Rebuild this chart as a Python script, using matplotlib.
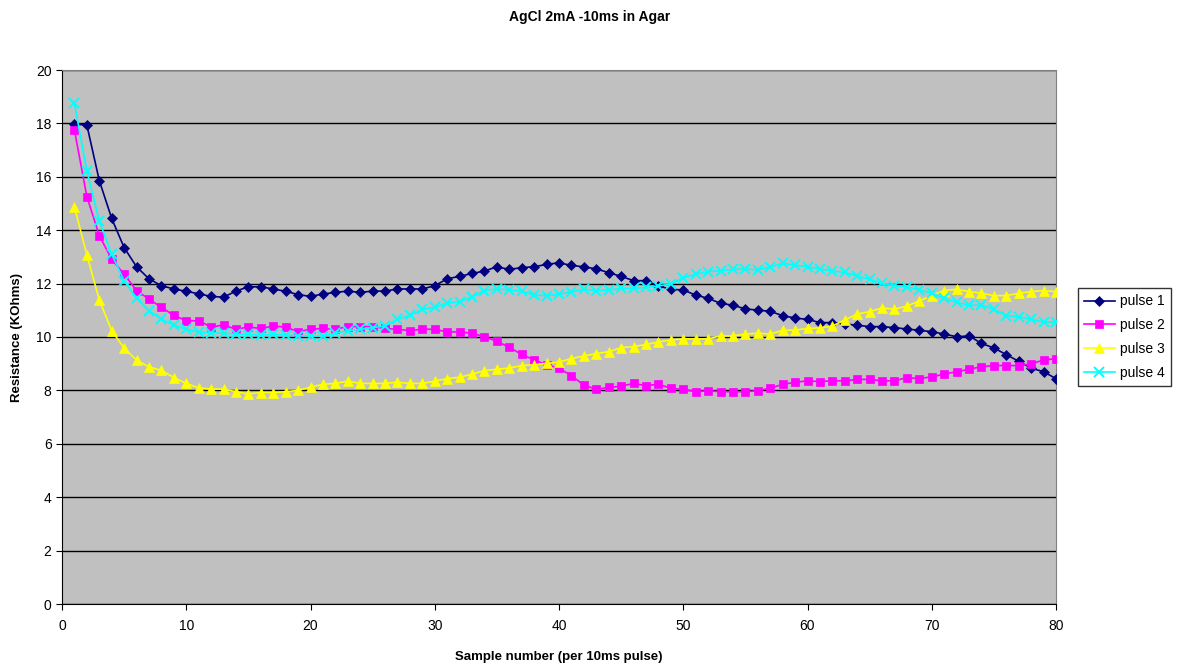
import matplotlib
matplotlib.use("Agg")
import matplotlib.pyplot as plt
import numpy as np

plt.rcParams['font.family'] = ['Liberation Sans', 'DejaVu Sans']

samples = np.arange(1, 81)

pulse1 = [17.97, 17.94, 15.86, 14.44, 13.35, 12.63, 12.18, 11.92, 11.80, 11.71,
          11.62, 11.52, 11.49, 11.72, 11.88, 11.88, 11.80, 11.71, 11.59, 11.52,
          11.61, 11.67, 11.72, 11.67, 11.72, 11.72, 11.80, 11.80, 11.80, 11.92,
          12.18, 12.27, 12.38, 12.47, 12.63, 12.53, 12.60, 12.63, 12.72, 12.78,
          12.68, 12.63, 12.55, 12.41, 12.27, 12.11, 12.11, 11.91, 11.79, 11.76,
          11.57, 11.45, 11.26, 11.19, 11.05, 11.01, 10.96, 10.80, 10.71, 10.66,
          10.54, 10.54, 10.49, 10.44, 10.39, 10.39, 10.35, 10.30, 10.25, 10.20,
          10.11, 10.01, 10.04, 9.76, 9.59, 9.34, 9.09, 8.83, 8.70, 8.44]

pulse2 = [17.75, 15.26, 13.80, 12.91, 12.35, 11.74, 11.42, 11.11, 10.81, 10.61,
          10.61, 10.37, 10.45, 10.29, 10.37, 10.32, 10.41, 10.37, 10.20, 10.29,
          10.32, 10.29, 10.39, 10.39, 10.39, 10.32, 10.29, 10.24, 10.29, 10.29,
          10.19, 10.19, 10.14, 10.01, 9.84, 9.61, 9.35, 9.14, 8.96, 8.83,
          8.55, 8.20, 8.04, 8.11, 8.16, 8.26, 8.18, 8.23, 8.08, 8.04,
          7.95, 7.99, 7.95, 7.95, 7.95, 7.99, 8.08, 8.23, 8.30, 8.36,
          8.33, 8.36, 8.36, 8.41, 8.41, 8.36, 8.36, 8.48, 8.44, 8.51,
          8.61, 8.70, 8.79, 8.89, 8.93, 8.93, 8.93, 8.99, 9.14, 9.19]

pulse3 = [14.88, 13.07, 11.39, 10.24, 9.58, 9.14, 8.88, 8.75, 8.48, 8.26,
          8.09, 8.05, 8.05, 7.95, 7.87, 7.92, 7.92, 7.95, 8.00, 8.12,
          8.23, 8.26, 8.35, 8.26, 8.26, 8.26, 8.31, 8.26, 8.26, 8.35,
          8.44, 8.49, 8.61, 8.74, 8.79, 8.84, 8.93, 8.96, 9.01, 9.06,
          9.19, 9.29, 9.38, 9.45, 9.60, 9.64, 9.72, 9.81, 9.89, 9.93,
          9.93, 9.93, 10.04, 10.04, 10.11, 10.14, 10.11, 10.25, 10.26, 10.32,
          10.34, 10.41, 10.64, 10.86, 10.95, 11.09, 11.04, 11.16, 11.35, 11.55,
          11.74, 11.79, 11.70, 11.64, 11.55, 11.55, 11.64, 11.70, 11.74, 11.70]

pulse4 = [18.75, 16.23, 14.34, 13.10, 12.11, 11.45, 10.99, 10.67, 10.45, 10.29,
          10.18, 10.16, 10.14, 10.11, 10.10, 10.07, 10.10, 10.07, 10.05, 10.04,
          10.04, 10.14, 10.24, 10.29, 10.35, 10.41, 10.66, 10.81, 11.04, 11.11,
          11.27, 11.32, 11.50, 11.74, 11.80, 11.76, 11.72, 11.57, 11.55, 11.60,
          11.69, 11.79, 11.74, 11.76, 11.82, 11.82, 11.86, 11.91, 11.99, 12.22,
          12.35, 12.45, 12.48, 12.53, 12.55, 12.51, 12.63, 12.76, 12.69, 12.63,
          12.55, 12.47, 12.42, 12.28, 12.16, 12.01, 11.92, 11.88, 11.76, 11.64,
          11.45, 11.30, 11.19, 11.19, 11.04, 10.80, 10.76, 10.66, 10.56, 10.56]

series = [("pulse 1", pulse1, "#000080", "D", 5.5),
          ("pulse 2", pulse2, "#FF00FF", "s", 5.5),
          ("pulse 3", pulse3, "#FFFF00", "^", 6.5),
          ("pulse 4", pulse4, "#00FFFF", "x", 6.5)]

fig = plt.figure(figsize=(11.79, 6.68), dpi=100)
ax = fig.add_axes([62/1179, 64/668, 994/1179, 534/668])
ax.set_facecolor("#C0C0C0")

for name, vals, col, mk, ms in series:
    ax.plot(samples, vals, color=col, marker=mk, markersize=ms, linewidth=1.2,
            markeredgewidth=1.4 if mk == "x" else 0.5, label=name, zorder=3)

ax.set_xlim(0, 80)
ax.set_ylim(0, 20)
ax.set_xticks(range(0, 81, 10))
ax.set_yticks(range(0, 21, 2))
ax.yaxis.grid(True, color="black", linewidth=1)
ax.set_axisbelow(True)
ax.tick_params(direction="out", length=4, labelsize=10, color="black")
ax.tick_params(axis="x", pad=7)
for side in ["top", "right"]:
    ax.spines[side].set_color("#808080")
for side in ["left", "bottom"]:
    ax.spines[side].set_color("black")

ax.set_xlabel("Sample number (per 10ms pulse)", fontsize=9.5, fontweight="bold", labelpad=13)
ax.set_ylabel("Resistance (KOhms)", fontsize=9.5, fontweight="bold", labelpad=9)
fig.suptitle("AgCl 2mA -10ms in Agar", fontsize=10, fontweight="bold", y=0.985)

leg = ax.legend(loc="center left", bbox_to_anchor=(1.022, 0.5), borderaxespad=0,
                fontsize=10, frameon=True, fancybox=False, edgecolor="black",
                borderpad=0.45, handlelength=2.2, handletextpad=0.35,
                labelspacing=0.7)
leg.get_frame().set_linewidth(1)

fig.savefig("out.png", dpi=100, facecolor="white")
